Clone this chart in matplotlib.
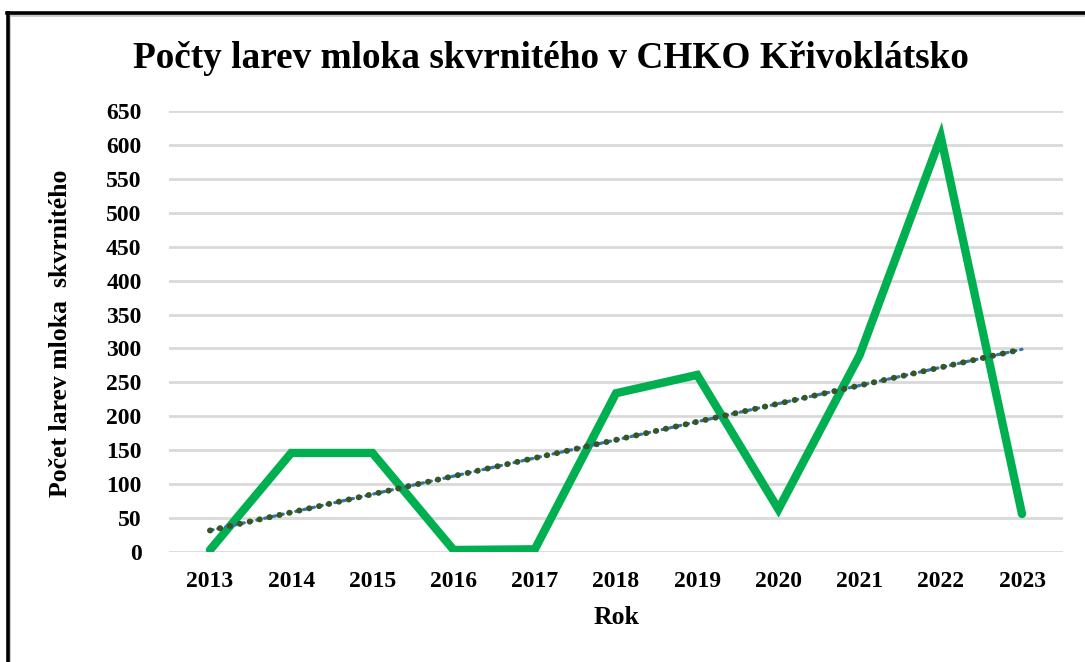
import matplotlib
matplotlib.use("Agg")
import matplotlib.pyplot as plt
import numpy as np
from matplotlib.lines import Line2D

years = ["2013", "2014", "2015", "2016", "2017", "2018", "2019", "2020", "2021", "2022", "2023"]
counts = [3, 146, 146, 3, 4, 234, 261, 63, 290, 612, 56]
yticks = [0, 50, 100, 150, 200, 250, 300, 350, 400, 450, 500, 550, 600, 650]

title = "Počty larev mloka skvrnitého v CHKO Křivoklátsko"
xlabel = "Rok"
ylabel = "Počet larev mloka  skvrnitého"

plt.rcParams['font.family'] = ['Liberation Serif', 'DejaVu Serif']

W, H = 1085, 662
fig = plt.figure(figsize=(W / 100, H / 100), dpi=100)
ax = fig.add_axes([169.4 / W, 1 - 552 / H, (1062.6 - 169.4) / W, (552 - 111) / H])

x = np.arange(len(years))
ax.plot(x, counts, color="#00B050", lw=6, solid_joinstyle="miter", solid_capstyle="round", zorder=3)

coef = np.polyfit(x, counts, 1)
trend = np.polyval(coef, x)
ax.plot(x, trend, color="#2E75B6", lw=2.3, ls=(0, (1, 1.5)), dash_capstyle="round", zorder=4)
ax.plot(x, trend, color="#375623", lw=4.3, ls=(0, (0.05, 1.65)), dash_capstyle="round", zorder=5)

ax.set_xlim(-0.5, len(years) - 0.5)
ax.set_ylim(0, 650)
ax.set_yticks(yticks)
ax.set_xticks(x)
ax.set_xticklabels(years)
ax.grid(axis="y", color="#D9D9D9", lw=2)
ax.set_axisbelow(True)
for s in ax.spines.values():
    s.set_visible(False)
ax.tick_params(length=0, labelsize=17)
for lab in ax.get_xticklabels() + ax.get_yticklabels():
    lab.set_fontweight("bold")
ax.tick_params(axis="y", pad=20)
ax.tick_params(axis="x", pad=14)

fig.text(551 / W, 1 - 59 / H, title, ha="center", va="center", fontsize=26.8, fontweight="bold")
fig.text(616 / W, 1 - 617 / H, xlabel, ha="center", va="center", fontsize=18.5, fontweight="bold")
fig.text(61 / W, 1 - 333 / H, ylabel, ha="center", va="center", fontsize=18.5, fontweight="bold", rotation=90)

# outer frame (left and top edges visible)
fig.add_artist(Line2D([9 / W, 9 / W], [1 - 15 / H, -0.05], transform=fig.transFigure, color="#C8C8C8", lw=2))
fig.add_artist(Line2D([9 / W, 1.05], [1 - 15 / H, 1 - 15 / H], transform=fig.transFigure, color="#C8C8C8", lw=2))
fig.add_artist(Line2D([8 / W, 8 / W], [1 - 13 / H, -0.05], transform=fig.transFigure, color="black", lw=2.6))
fig.add_artist(Line2D([7 / W, 1.05], [1 - 13 / H, 1 - 13 / H], transform=fig.transFigure, color="black", lw=2.6))

fig.savefig("out.png", dpi=100)
